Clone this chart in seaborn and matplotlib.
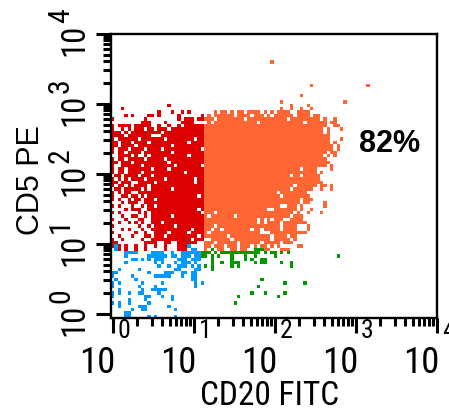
import numpy as np
import matplotlib
matplotlib.use("Agg")
import matplotlib.pyplot as plt
import matplotlib.transforms as mtrans
from matplotlib import font_manager as fm
from matplotlib.colors import ListedColormap
import seaborn as sns

# ---------------- data: binned dot plot (CD20 FITC vs CD5 PE) ----------------
N_ROWS, N_COLS = 85, 98          # bins (rows top->bottom = high->low CD5)
DECADES = [0, 1, 2, 3, 4]
X_TICK_LABELS = ["0", "1", "2", "3", "4"]
Y_TICK_LABELS = ["0", "1", "2", "3", "4"]
X_LABEL = "CD20 FITC"
Y_LABEL = "CD5 PE"
PERCENT = "82%"

# left part of each row (bins 0..27): r = CD5+CD20- (red), b = CD5-CD20- (blue)
LEFT_ROWS = {
    21: "....... ....... ...r... .......",
    22: "...r... ....... ....... .......",
    23: "....... ....... r...r.. r.r....",
    24: "....r.r ....rr. r.....r ......r",
    25: "r...... ...r... ......r .rrr.rr",
    26: "....... ..rrr.. ..r.... rrrr...",
    27: "r.rrrr. rrrrr.. r..r..r .rrrrrr",
    28: "r..r.r. rrr.rr. rrr.rrr rrrrrrr",
    29: "rrr.r.r rrrrrrr r.rrrrr rrrrrrr",
    30: "rrrr.rr rrrrr.. .rrrrrr rrrrrrr",
    31: "r.rrrrr r.rrrrr rr.rrrr rrrr.rr",
    32: "rr.rrr. rrrr.rr rrrrrrr rr.rrrr",
    33: "rr.rrrr .rrrrrr rrrr.rr rrrrrrr",
    34: "r.rrr.r rrr.rrr r.rrrrr rrrrrr.",
    35: "r.rr.rr rr.rrrr rrrr.rr rrrrrrr",
    36: "..rrrr. r..r.rr rrrrrrr rr.rrrr",
    37: "r.rr.rr rrr.rrr rr.rrrr rrrrrrr",
    38: "rr.rrr. rrrrrrr rrr.rrr rrrrrrr",
    39: "r..rrrr rr.rrrr rrrrr.r rrrrrr.",
    40: "r.rr.rr rrrrr.r rrr.rrr rrrrrrr",
    41: "r.rr.rr rr.rrrr rrrrrrr r.rrrrr",
    42: ".rr.rrr r.rrr.r rrrrrrr rrrrrrr",
    43: "r.r.r.r rrr.rrr rr.rrrr rrrr.rr",
    44: "rr.rrr. .rrrrr. rrrrrrr rrrr.rr",
    45: "r.rr.r. rrrr.rr rrrrrrr rrrrrrr",
    46: ".rr.rrr rr.r.rr rrrr.rr rrrrrrr",
    47: "r.r.rr. .rrrrrr rrrrrrr rrrrrrr",
    48: "r..rr.r r.r.rrr rrrrrrr rrrrr.r",
    49: "r.r..r. rr.rrr. rrrrrrr rrrrrrr",
    50: "...r.rr r..rrrr rrrrrrr rrrrrrr",
    51: "r.r...r ..r.rr. rrrrrrr rrrrrrr",
    52: "....r.r rr..rrr rrrrrrr rrrrr.r",
    53: "r.r.... .r.r.rr rrrrrrr rrrrrr.",
    54: "...r..r r..r.rr rrrr.rr rrrrrrr",
    55: "r...r.. .rr..rr rrrrrrr rrrrrrr",
    56: "..r..r. r.r..rr r.rrrrr rrrrrrr",
    57: "r...... .r..r.r rrrrr.r rrrrrrr",
    58: "...r.r. ..r..rr rrrrrrr rrr.rrr",
    59: "r...... r..r..r rrr.rrr rr.rrrr",
    60: "..r...r ...rr.r rr.rrrr rrrrr.r",
    61: "r..r... ..r..rr rrrrrrr rrr.rrr",
    62: "rr..... ...rrrr ..rr..r rrrrr..",
    63: "rbr.r.. r..r..r ..r...r rrb....",
    64: ".br.r.. r..r... ..r...r rr.bb..",
    65: "....bbb b....bb bb..b.. bbbbbb.",
    66: "....b.. ....bbb bbb.bb. bbb.bb.",
    67: "......b b.b.b.b bb....b bb.bbb.",
    68: "....b.. ......b .b...b. bbb.b..",
    69: "....... ....... b..b..b bb.b.b.",
    70: "..b.... .b..... .....bb ....bb.",
    71: "bb..... ....b.. ..bbb.. bb.bb..",
    72: "b.....b ......b bbbb... b..bb..",
    73: ".b..... b...... ....... ...bb..",
    74: "b.b.... ..b.... .b..... ....b.b",
    75: "b...... .b....b ....... ....b..",
    76: "..b.... ..b..bb bbb.... .......",
    77: "b.b..b. .bb.... b...... .......",
    78: "b...... ...bb.. .b..b.. .......",
    79: ".....b. ...b... ....b.. .......",
    80: "b.b..b. ....b.. ....... .......",
    81: "..b.... .bbb... ...b... .......",
    82: "......b ..bb... .....b. .......",
    83: "....bb. ....... ....... .......",
    84: "....bb. ....b.b .....b. .......",
}

# CD5+CD20+ population (orange): solid span per row, holes and isolated bins
ORANGE_SPAN = {
    24: (29, 62), 25: (28, 62), 26: (29, 64), 27: (28, 64), 28: (28, 63),
    29: (28, 63), 30: (28, 65), 31: (28, 65), 32: (28, 65), 33: (28, 66),
    34: (28, 66), 35: (28, 64), 36: (28, 65), 37: (28, 64), 38: (28, 63),
    39: (28, 62), 40: (28, 61), 41: (28, 61), 42: (28, 62), 43: (28, 62),
    44: (28, 62), 45: (28, 61), 46: (28, 60), 47: (28, 58), 48: (28, 59),
    49: (28, 60), 50: (28, 59), 51: (28, 57), 52: (28, 57), 53: (28, 56),
    54: (28, 57), 55: (28, 57), 56: (28, 58), 57: (28, 55), 58: (28, 55),
    59: (28, 56), 60: (28, 55), 61: (30, 55), 62: (28, 53), 63: (28, 50),
}
ORANGE_HOLES = {
    24: [30, 37, 42, 46, 48, 55, 60], 25: [31, 40, 53], 26: [30, 44, 58],
    36: [64], 40: [57], 42: [54, 57], 45: [55], 46: [54], 47: [50],
    48: [51], 49: [57], 50: [57], 51: [51, 52, 56], 52: [47, 48, 56],
    53: [31, 55], 54: [29, 37, 54], 55: [44, 46, 48, 52, 53],
    56: [44, 46, 51], 57: [31, 51], 58: [30, 33, 42, 45, 51],
    59: [29, 45, 46, 47], 60: [35, 48, 53], 61: [36, 48, 54],
    62: [31, 38, 45, 51], 63: [30, 34, 38, 42, 44, 47, 49],
}
ORANGE_EXTRA = {
    8: [48], 15: [60, 77], 18: [57], 20: [51, 70], 21: [54, 59],
    22: [51, 54, 57, 60],
    23: [31, 33, 34, 36, 38, 39, 41, 42, 43, 44, 46, 48, 50, 51, 52, 53,
         56, 57, 58, 59],
    25: [64, 67], 26: [66, 67], 27: [67, 68], 28: [65, 69], 29: [65],
    31: [69], 32: [67], 33: [68], 34: [68], 35: [66, 67], 36: [67],
    38: [64, 65], 39: [63, 64, 66], 40: [66], 41: [63], 44: [63],
    45: [63, 64, 66], 46: [63, 66], 50: [64], 51: [64], 52: [60],
    53: [59, 63], 57: [59], 58: [59], 59: [56, 57, 58], 62: [54],
    63: [56, 57],
    64: [28, 32, 33, 36, 37, 39, 40, 46, 47, 51, 52, 53],
}
# CD5-CD20+ population (green)
GREEN_CELLS = {
    64: [30, 43, 44, 45],
    65: [27, 28, 29, 31, 33, 34, 35, 36, 37, 38, 39, 40, 41, 42, 43, 44,
         46, 48, 49, 51, 53],
    66: [27, 28, 30, 32, 36, 40, 43, 49, 68],
    67: [30, 36, 40, 42, 45, 46],
    68: [30, 33, 36, 37, 38, 43, 45, 46, 51, 54],
    69: [28, 30, 36, 38, 54],
    70: [30], 73: [45], 74: [52, 58], 75: [44], 77: [42, 46, 52],
    78: [38, 50], 80: [37],
}

COLORS = ["#dd0000", "#ff6633", "#0099ff", "#009900"]
CODE = {"r": 0, "o": 1, "b": 2, "g": 3}

# ---------------- build the bin matrix ----------------
grid = np.full((N_ROWS, N_COLS), np.nan)
for row, s in LEFT_ROWS.items():
    s = s.replace(" ", "").ljust(28, ".")[:28]
    for c, ch in enumerate(s):
        if ch in CODE:
            grid[row, c] = CODE[ch]
for row, (a, b) in ORANGE_SPAN.items():
    grid[row, a:b + 1] = CODE["o"]
    for c in ORANGE_HOLES.get(row, []):
        grid[row, c] = np.nan
for row, cols in ORANGE_EXTRA.items():
    for c in cols:
        grid[row, c] = CODE["o"]
for row, cols in GREEN_CELLS.items():
    for c in cols:
        grid[row, c] = CODE["g"]


# ---------------- fonts ----------------
def _font_ok(family, stretch="normal", need=None):
    try:
        p = fm.findfont(fm.FontProperties(family=family, stretch=stretch),
                        fallback_to_default=False)
    except Exception:
        return False
    return need is None or need.lower() in p.lower()


NARROW_KW = None
for fam, st, need in [("Liberation Sans Narrow", "normal", None),
                      ("Arial Narrow", "normal", None),
                      ("Nimbus Sans Narrow", "normal", None),
                      ("Roboto Condensed", "normal", None),
                      ("DejaVu Sans", "condensed", "condensed")]:
    if _font_ok(fam, st, need):
        NARROW_KW = dict(family=fam, stretch=st)
        SCALE = 1.0
        break
if NARROW_KW is None:
    NARROW_KW = dict(family=["Liberation Sans", "DejaVu Sans"])
    SCALE = 0.88
REG = ["Liberation Sans", "DejaVu Sans"]

# ---------------- figure ----------------
W, H = 449, 411
fig = plt.figure(figsize=(W / 100, H / 100), dpi=100)
ax = fig.add_axes([111 / W, 1 - 318 / H, (437 - 111) / W, (318 - 33.5) / H])

sns.heatmap(grid, cmap=ListedColormap(COLORS), vmin=-0.5, vmax=3.5,
            cbar=False, ax=ax, xticklabels=False, yticklabels=False)
ax.set_xlim(0, N_COLS)
ax.set_ylim(N_ROWS, 0)

for sp in ax.spines.values():
    sp.set_visible(True)
    sp.set_linewidth(1.7)
    sp.set_color("black")

# log-decade axis positions in bin units
X0, DX = 0.6, 24.42
Y0, DY = 83.7, 20.92
xmaj = [X0 + DX * k for k in DECADES]
ymaj = [Y0 - DY * k for k in DECADES]
xmin = [X0 + DX * (k + np.log10(m)) for k in DECADES[:-1] for m in range(2, 10)]
ymin = [Y0 - DY * (k + np.log10(m)) for k in DECADES[:-1] for m in range(2, 10)]
ax.set_xticks(xmaj)
ax.set_xticks(xmin, minor=True)
ax.set_yticks(ymaj)
ax.set_yticks(ymin, minor=True)
ax.set_xticklabels([])
ax.set_yticklabels([])
ax.tick_params(which="major", direction="out", length=10.5, width=2.2,
               color="black", bottom=True, left=True, top=False, right=False)
ax.tick_params(which="minor", direction="out", length=5.5, width=2.2,
               color="black", bottom=True, left=True, top=False, right=False)

ident = mtrans.IdentityTransform()

for k, xm, ym in zip(DECADES, xmaj, ymaj):
    tx, _ = ax.transData.transform((xm, 0))
    fig.text(tx + 3, H - 373, "10", ha="right", va="baseline",
             fontsize=26.5 * SCALE, transform=ident, **NARROW_KW)
    fig.text(tx + 5, H - 338, X_TICK_LABELS[k], ha="left", va="baseline",
             fontsize=18.5 * SCALE, transform=ident, **NARROW_KW)
    _, tyd = ax.transData.transform((0, ym))
    ty = H - tyd
    fig.text(83, H - (ty + 22), "10", rotation=90, rotation_mode="anchor",
             ha="left", va="baseline", fontsize=23.5 * SCALE,
             transform=ident, **NARROW_KW)
    fig.text(69, H - (ty - 11), Y_TICK_LABELS[k], rotation=90,
             rotation_mode="anchor", ha="left", va="baseline",
             fontsize=21.5 * SCALE, transform=ident, **NARROW_KW)

fig.text(270, H - 405, X_LABEL, ha="center", va="baseline",
         fontsize=24 * SCALE, transform=ident, **NARROW_KW)
fig.text(39, H - 180, Y_LABEL, rotation=90, rotation_mode="anchor",
         ha="center", va="baseline", fontsize=22, family=REG, transform=ident)
fig.text(390, H - 152, PERCENT, ha="center", va="baseline", fontsize=22,
         weight="bold", family=REG, transform=ident)

fig.savefig("out.png", dpi=100)
